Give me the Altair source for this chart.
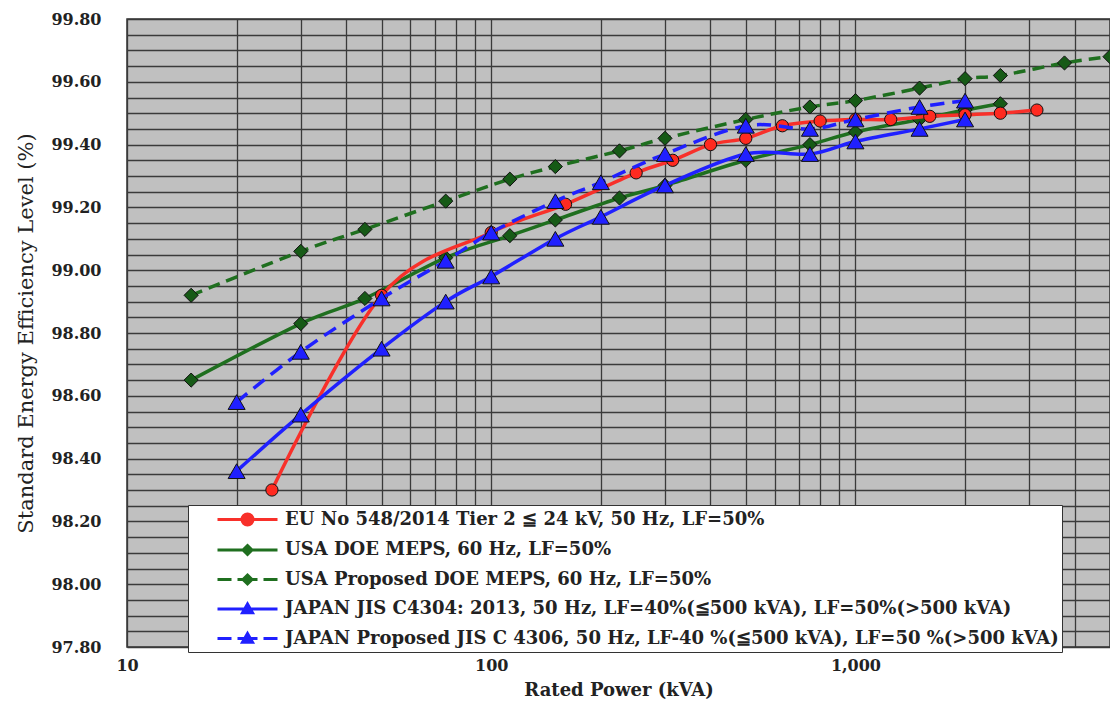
import altair as alt
import pandas as pd

# ---------------- data ----------------
series_names = [
    "EU No 548/2014 Tier 2 ≦ 24 kV, 50 Hz, LF=50%",
    "USA DOE MEPS, 60 Hz, LF=50%",
    "USA Proposed DOE MEPS, 60 Hz, LF=50%",
    "JAPAN JIS C4304: 2013, 50 Hz, LF=40%(≦500 kVA), LF=50%(>500 kVA)",
    "JAPAN Proposed JIS C 4306, 50 Hz, LF-40 %(≦500 kVA), LF=50 %(>500 kVA)",
]

eu_kva = [25, 50, 100, 160, 250, 315, 400, 500, 630, 800, 1000, 1250, 1600, 2000, 2500, 3150]
eu_eff = [98.30, 98.92, 99.12, 99.21, 99.31, 99.35, 99.40, 99.42, 99.46, 99.475, 99.48, 99.48,
          99.49, 99.495, 99.50, 99.51]

usa_kva = [15, 30, 45, 75, 112.5, 150, 225, 300, 500, 750, 1000, 1500, 2000, 2500]
usa_eff = [98.65, 98.83, 98.91, 99.04, 99.11, 99.16, 99.23, 99.27, 99.35, 99.40, 99.44, 99.48,
           99.51, 99.53]

usap_kva = [15, 30, 45, 75, 112.5, 150, 225, 300, 500, 750, 1000, 1500, 2000, 2500, 3750, 5000]
usap_eff = [98.92, 99.06, 99.13, 99.22, 99.29, 99.33, 99.38, 99.42, 99.48, 99.52, 99.54, 99.58,
            99.61, 99.62, 99.66, 99.68]

jis_kva = [20, 30, 50, 75, 100, 150, 200, 300, 500, 750, 1000, 1500, 2000]
jis_eff = [98.36, 98.54, 98.75, 98.90, 98.98, 99.10, 99.17, 99.27, 99.37, 99.37, 99.41, 99.45, 99.48]

jisp_kva = [20, 30, 50, 75, 100, 150, 200, 300, 500, 750, 1000, 1500, 2000]
jisp_eff = [98.58, 98.74, 98.91, 99.03, 99.12, 99.22, 99.28, 99.37, 99.46, 99.45, 99.48, 99.52, 99.54]

x_tick_labels = [10, 100, 1000]
x_grid = [10, 20, 30, 40, 50, 60, 70, 80, 90, 100, 200, 300, 400, 500, 600, 700, 800, 900,
          1000, 2000, 3000, 4000, 5000]
y_grid = [round(97.80 + 0.05 * i, 2) for i in range(41)]

# ---------------- styles ----------------
FONT = "DejaVu Serif"
RED = "#f8302a"
GREEN = "#1f6f1f"
GREEN_MK = "#165a16"
BLUE = "#2020ff"


def frame(kva, eff, name):
    return pd.DataFrame({"kva": kva, "eff": eff, "series": name})


df_eu = frame(eu_kva, eu_eff, series_names[0])
df_usa = frame(usa_kva, usa_eff, series_names[1])
df_usap = frame(usap_kva, usap_eff, series_names[2])
df_jis = frame(jis_kva, jis_eff, series_names[3])
df_jisp = frame(jisp_kva, jisp_eff, series_names[4])
all_df = pd.concat([df_eu, df_usa, df_usap, df_jis, df_jisp], ignore_index=True)

x_label_expr = "indexof([" + ",".join(str(v) for v in x_tick_labels) + "], datum.value) >= 0 ? format(datum.value, ',') : ''"

x_enc = alt.X(
    "kva:Q",
    scale=alt.Scale(type="log", domain=[10, 5000], nice=False),
    axis=alt.Axis(
        values=x_grid,
        labelExpr=x_label_expr,
        title="Rated Power (kVA)",
        grid=True,
        gridColor="#3a3a3a",
        gridWidth=1.3,
        ticks=False,
        domain=False,
        labelFont=FONT,
        labelFontSize=16,
        labelFontWeight="bold",
        labelColor="#222",
        labelPadding=10,
        labelFlush=False,
        titleFont=FONT,
        titleFontSize=18,
        titleFontWeight="bold",
        titleColor="#222",
        titlePadding=8,
    ),
)
y_enc = alt.Y(
    "eff:Q",
    scale=alt.Scale(domain=[97.8, 99.8], nice=False, zero=False),
    axis=alt.Axis(
        values=y_grid,
        labelExpr="abs(datum.value*5 - round(datum.value*5)) < 0.01 ? format(datum.value, '.2f') : ''",
        title="Standard Energy Efficiency Level (%)",
        grid=True,
        gridColor="#3a3a3a",
        gridWidth=1.3,
        ticks=False,
        domain=False,
        labelFont=FONT,
        labelFontSize=16,
        labelFontWeight="bold",
        labelColor="#222",
        labelPadding=26,
        labelFlush=False,
        titleFont=FONT,
        titleFontSize=21,
        titleFontWeight="normal",
        titleColor="#222",
        titlePadding=14,
    ),
)


def series_layers(df, color, mk_fill, shape, size, dash):
    line_kwargs = dict(color=color, strokeWidth=3.5, interpolate="cardinal")
    if dash:
        line_kwargs["strokeDash"] = dash
    line = alt.Chart(df).mark_line(**line_kwargs).encode(x=x_enc, y=y_enc)
    pts = alt.Chart(df).mark_point(
        shape=shape, filled=True, fill=mk_fill, stroke="#111", strokeWidth=1, size=size, opacity=1
    ).encode(x=x_enc, y=y_enc)
    return [line, pts]


layers = []
layers += series_layers(df_usap, GREEN, GREEN_MK, "diamond", 200, [12, 7])
layers += series_layers(df_usa, GREEN, GREEN_MK, "diamond", 200, None)
layers += series_layers(df_eu, RED, "#ff2a20", "circle", 150, None)
layers += series_layers(df_jis, BLUE, BLUE, "triangle-up", 290, None)
layers += series_layers(df_jisp, BLUE, BLUE, "triangle-up", 290, [14, 8])

# legend symbols: line + marker drawn as one custom path each
legend_paths = [
    "M-3,0H3M0.55,0A0.55,0.55,0,1,1,-0.55,0A0.55,0.55,0,1,1,0.55,0Z",
    "M-3,0H3M0,-0.45L0.45,0L0,0.45L-0.45,0Z",
    "M-3,0H-1.6M-1.0,0H1.0M1.6,0H3M0,-0.45L0.45,0L0,0.45L-0.45,0Z",
    "M-3,0H3M0,-0.5L0.5,0.38L-0.5,0.38Z",
    "M-3,0H-1.6M-1.0,0H1.0M1.6,0H3M0,-0.5L0.5,0.38L-0.5,0.38Z",
]
legend_colors = [RED, GREEN, GREEN, BLUE, BLUE]

leg = alt.Legend(
    title=None,
    orient="none",
    legendX=61,
    legendY=486,
    fillColor="white",
    strokeColor="#333",
    padding=3,
    symbolSize=400,
    symbolStrokeWidth=3,
    symbolOffset=45,
    labelOffset=26,
    labelFont=FONT,
    labelFontSize=18,
    labelFontWeight="bold",
    labelColor="#222",
    labelLimit=0,
    rowPadding=7.5,
)

legend_layer = alt.Chart(all_df).transform_filter("false").mark_point(filled=True, opacity=1).encode(
    x=x_enc,
    y=y_enc,
    shape=alt.Shape("series:N", scale=alt.Scale(domain=series_names, range=legend_paths), legend=leg),
    fill=alt.Fill("series:N", scale=alt.Scale(domain=series_names, range=legend_colors), legend=leg),
    stroke=alt.Stroke("series:N", scale=alt.Scale(domain=series_names, range=legend_colors), legend=leg),
)

chart = alt.layer(*layers, legend_layer).properties(
    width=983,
    height=628,
    autosize=alt.AutoSizeParams(type="none"),
    padding={"left": 119, "top": 11, "right": 0, "bottom": 54},
    background="white",
).configure_view(
    fill="#c0c0c0",
    stroke="#333",
    strokeWidth=1.5,
)

chart.save("out.html", embed_options={"renderer": "svg", "actions": False})
